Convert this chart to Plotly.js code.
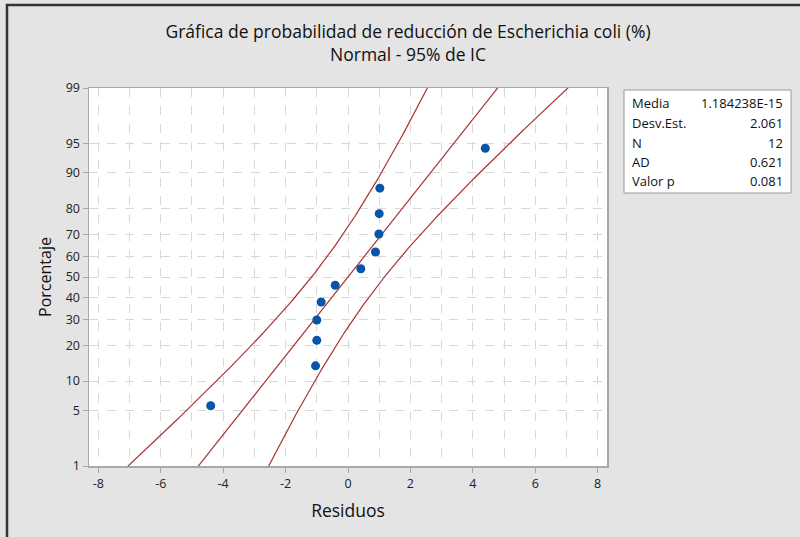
<!DOCTYPE html>
<html>
<head>
<meta charset="utf-8">
<script src="https://cdn.plot.ly/plotly-3.0.1.min.js"></script>
<style>html,body{margin:0;padding:0;background:#e4e4e4;}#chart{width:800px;height:537px;}</style>
</head>
<body>
<div id="chart"></div>
<script>
// ---- data ----
const residuos = [-4.40, -1.04, -1.00, -1.00, -0.86, -0.41, 0.41, 0.88, 0.99, 1.00, 1.02, 4.40];
const porcentajes = [5.65, 13.71, 21.77, 29.84, 37.90, 45.97, 54.03, 62.10, 70.16, 78.23, 86.29, 94.35];
const yTickPct = [1, 5, 10, 20, 30, 40, 50, 60, 70, 80, 90, 95, 99];
const xTicks = [-8, -6, -4, -2, 0, 2, 4, 6, 8];
const statLabels = ["Media", "Desv.Est.", "N", "AD", "Valor p"];
const statValues = ["1.184238E-15", "2.061", "12", "0.621", "0.081"];
const media = 1.184238e-15;
const desvEst = 2.061;
const nObs = 12;
const confZ = 1.959964;

// inverse standard normal (Acklam)
function qnorm(p) {
  const a = [-3.969683028665376e+01, 2.209460984245205e+02, -2.759285104469687e+02, 1.383577518672690e+02, -3.066479806614716e+01, 2.506628277459239e+00];
  const b = [-5.447609879822406e+01, 1.615858368580409e+02, -1.556989798598866e+02, 6.680131188771972e+01, -1.328068155288572e+01];
  const c = [-7.784894002430293e-03, -3.223964580411365e-01, -2.400758277161838e+00, -2.549732539343734e+00, 4.374664141464968e+00, 2.938163982698783e+00];
  const d = [7.784695709041462e-03, 3.224671290700398e-01, 2.445134137142996e+00, 3.754408661907416e+00];
  const pl = 0.02425, ph = 1 - pl;
  let q, r;
  if (p < pl) { q = Math.sqrt(-2 * Math.log(p));
    return (((((c[0]*q+c[1])*q+c[2])*q+c[3])*q+c[4])*q+c[5]) / ((((d[0]*q+d[1])*q+d[2])*q+d[3])*q+1); }
  if (p <= ph) { q = p - 0.5; r = q*q;
    return (((((a[0]*r+a[1])*r+a[2])*r+a[3])*r+a[4])*r+a[5])*q / (((((b[0]*r+b[1])*r+b[2])*r+b[3])*r+b[4])*r+1); }
  q = Math.sqrt(-2 * Math.log(1 - p));
  return -(((((c[0]*q+c[1])*q+c[2])*q+c[3])*q+c[4])*q+c[5]) / ((((d[0]*q+d[1])*q+d[2])*q+d[3])*q+1);
}

const zPts = porcentajes.map(p => qnorm(p / 100));
const zTicks = yTickPct.map(p => qnorm(p / 100));

// fitted line and 95% CI from the fitted normal
const zLine = [], xFit = [], xLo = [], xHi = [];
for (let i = 0; i <= 200; i++) {
  const z = -2.6 + 5.2 * i / 200;
  const xp = media + desvEst * z;
  const se = desvEst * Math.sqrt((1 + z * z / 2) / nObs);
  zLine.push(z); xFit.push(xp); xLo.push(xp - confZ * se); xHi.push(xp + confZ * se);
}

const lineColor = '#a83232';
const traces = [
  {x: xLo, y: zLine, mode: 'lines', line: {color: lineColor, width: 1.2}, hoverinfo: 'skip'},
  {x: xFit, y: zLine, mode: 'lines', line: {color: lineColor, width: 1.2}, hoverinfo: 'skip'},
  {x: xHi, y: zLine, mode: 'lines', line: {color: lineColor, width: 1.2}, hoverinfo: 'skip'},
  {x: residuos, y: zPts, mode: 'markers', marker: {color: '#0655a8', size: 9}}
];

const L = 89, R = 607, T = 88, B = 466;
const W = R - L, H = B - T;
const px = v => (v - L) / W;
const py = v => (B - v) / H;

const annotations = [];
const rowsY = [103, 123, 143, 162, 181];
statLabels.forEach((s, i) => {
  annotations.push({xref: 'paper', yref: 'paper', x: px(630), y: py(rowsY[i]), xanchor: 'left', yanchor: 'middle',
    text: s, showarrow: false, font: {family: 'Open Sans, sans-serif', size: 13, color: '#111'}});
  annotations.push({xref: 'paper', yref: 'paper', x: px(785), y: py(rowsY[i]), xanchor: 'right', yanchor: 'middle',
    text: statValues[i], showarrow: false, font: {family: 'Open Sans, sans-serif', size: 13, color: '#111'}});
});

const layout = {
  width: 800, height: 537,
  paper_bgcolor: '#e4e4e4', plot_bgcolor: '#ffffff',
  margin: {l: L, r: 800 - R, t: T, b: 537 - B, pad: 0},
  showlegend: false,
  font: {family: 'Open Sans, sans-serif', color: '#222'},
  title: {text: 'Gráfica de probabilidad de reducción de Escherichia coli (%)<br>Normal - 95% de IC',
    xref: 'container', x: 0.51, xanchor: 'center', yref: 'container', y: 1 - 38 / 537, yanchor: 'middle',
    font: {family: 'Open Sans, sans-serif', size: 17.5, color: '#111'}},
  xaxis: {range: [-8.3, 8.3], tickvals: xTicks, ticktext: xTicks.map(String),
    showgrid: true, gridcolor: '#d8d8d8', griddash: 'dash', gridwidth: 1,
    minor: {dtick: 1, tick0: 0, showgrid: true, gridcolor: '#d8d8d8', griddash: 'dash', ticks: ''},
    zeroline: false, showline: true, linecolor: '#a8a8a8', linewidth: 1.5, mirror: true,
    ticks: 'outside', ticklen: 5, tickcolor: '#a8a8a8',
    tickfont: {size: 12.5, color: '#222'},
    title: {text: 'Residuos', font: {size: 17.5, color: '#111'}, standoff: 14}},
  yaxis: {range: [qnorm(0.01), qnorm(0.99)], tickvals: zTicks, ticktext: yTickPct.map(String),
    showgrid: true, gridcolor: '#d8d8d8', griddash: 'dash', gridwidth: 1,
    zeroline: false, showline: true, linecolor: '#a8a8a8', linewidth: 1.5, mirror: true,
    ticks: 'outside', ticklen: 5, tickcolor: '#a8a8a8',
    tickfont: {size: 12.5, color: '#222'},
    title: {text: 'Porcentaje', font: {size: 16, color: '#111'}, standoff: 10}},
  shapes: [
    {type: 'rect', xref: 'paper', yref: 'paper', x0: px(624), x1: px(791), y0: py(193), y1: py(90),
      line: {color: '#9a9a9a', width: 1}, fillcolor: '#ffffff', layer: 'below'},
    {type: 'rect', xref: 'paper', yref: 'paper', x0: px(7), x1: px(810), y0: py(545), y1: py(5),
      line: {color: '#333333', width: 2.5}, fillcolor: 'rgba(0,0,0,0)', layer: 'below'}
  ],
  annotations: annotations
};

Plotly.newPlot('chart', traces, layout, {displayModeBar: false, staticPlot: true});
</script>
</body>
</html>
